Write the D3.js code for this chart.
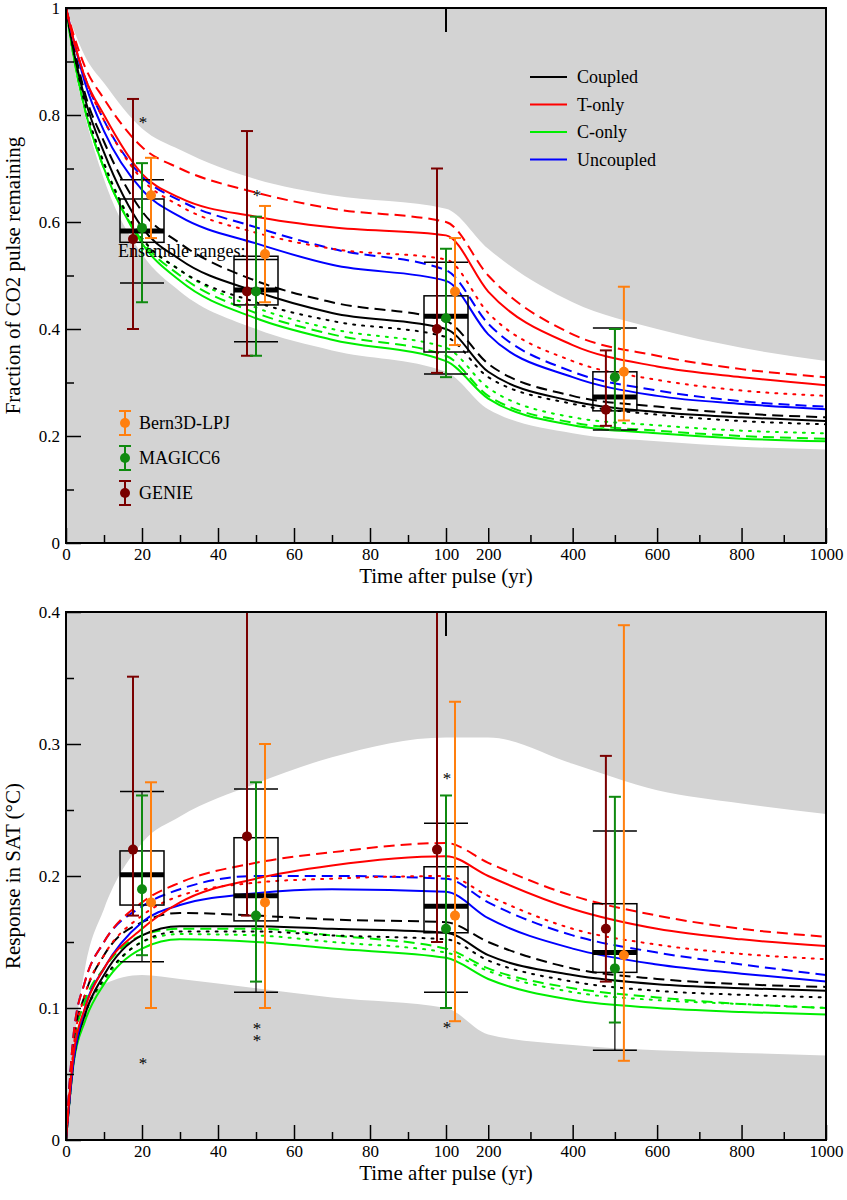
<!DOCTYPE html>
<html lang="en">
<head>
<meta charset="UTF-8">
<title>CO2 pulse response</title>
<script src="https://d3js.org/d3.v7.min.js"></script>
<style>
  body { margin: 0; background: #fff; }
  text { font-family: "Liberation Serif", "DejaVu Serif", serif; }
</style>
</head>
<body>
<div id="chart"></div>
<script>
// time grid shared by all curves
const times = [0, 2, 5, 10, 20, 30, 50, 70, 100, 200, 400, 600, 800, 1000];
const xTicks = [0, 20, 40, 60, 80, 100, 200, 400, 600, 800, 1000];
const xMinor = [10, 30, 50, 70, 90, 300, 500, 700, 900];

// ---- top panel: fraction of CO2 remaining ----
const co2EnvUpper = [1, 0.96, 0.91, 0.86, 0.775, 0.735, 0.68, 0.65, 0.625, 0.55, 0.45, 0.40, 0.365, 0.34];
const co2EnvLower = [1, 0.90, 0.80, 0.68, 0.54, 0.47, 0.40, 0.36, 0.32, 0.25, 0.205, 0.19, 0.18, 0.175];
const co2Coupled = [1, 0.92, 0.83, 0.73, 0.59, 0.53, 0.47, 0.43, 0.40, 0.32, 0.265, 0.245, 0.235, 0.228];
const co2CoupledDash = [1, 0.93, 0.84, 0.75, 0.62, 0.56, 0.49, 0.45, 0.415, 0.335, 0.275, 0.255, 0.242, 0.235];
const co2CoupledDot = [1, 0.92, 0.82, 0.71, 0.57, 0.51, 0.45, 0.415, 0.385, 0.31, 0.26, 0.24, 0.228, 0.222];
const co2T = [1, 0.94, 0.87, 0.80, 0.69, 0.645, 0.61, 0.59, 0.575, 0.47, 0.37, 0.33, 0.31, 0.295];
const co2TDash = [1, 0.95, 0.89, 0.83, 0.74, 0.70, 0.655, 0.625, 0.60, 0.50, 0.39, 0.35, 0.325, 0.31];
const co2TDot = [1, 0.94, 0.87, 0.79, 0.68, 0.63, 0.58, 0.55, 0.53, 0.43, 0.34, 0.305, 0.285, 0.275];
const co2C = [1, 0.91, 0.81, 0.70, 0.56, 0.49, 0.42, 0.38, 0.34, 0.27, 0.22, 0.205, 0.195, 0.19];
const co2CDash = [1, 0.91, 0.81, 0.70, 0.565, 0.50, 0.43, 0.39, 0.35, 0.275, 0.225, 0.21, 0.20, 0.195];
const co2CDot = [1, 0.91, 0.81, 0.71, 0.57, 0.51, 0.44, 0.40, 0.365, 0.29, 0.235, 0.22, 0.21, 0.205];
const co2U = [1, 0.94, 0.86, 0.77, 0.66, 0.61, 0.56, 0.52, 0.49, 0.39, 0.31, 0.275, 0.26, 0.25];
const co2UDash = [1, 0.94, 0.87, 0.79, 0.685, 0.64, 0.59, 0.55, 0.51, 0.41, 0.32, 0.285, 0.265, 0.255];

// boxes: time, whisker low, q1, median, q3, whisker high
const boxTimes = [20, 50, 100, 500];
const co2BoxLo = [0.486, 0.376, 0.316, 0.211];
const co2BoxQ1 = [0.562, 0.445, 0.357, 0.247];
const co2BoxMed = [0.583, 0.473, 0.424, 0.273];
const co2BoxQ3 = [0.643, 0.536, 0.462, 0.32];
const co2BoxHi = [0.679, 0.53, 0.525, 0.402];

// model ensemble ranges [low, mid, high] at boxTimes
const co2Genie = [[0.40, 0.568, 0.83], [0.35, 0.47, 0.77], [0.318, 0.40, 0.70], [0.219, 0.249, 0.36]];
const co2Magicc = [[0.45, 0.589, 0.71], [0.35, 0.47, 0.61], [0.31, 0.42, 0.55], [0.211, 0.31, 0.40]];
const co2Bern = [[0.57, 0.65, 0.72], [0.45, 0.54, 0.63], [0.37, 0.47, 0.57], [0.229, 0.32, 0.479]];
const co2Stars = [[20, 0.79], [50, 0.655]];

// ---- bottom panel: SAT response ----
const satEnvUpper = [0, 0.07, 0.13, 0.175, 0.225, 0.245, 0.27, 0.29, 0.305, 0.305, 0.285, 0.265, 0.255, 0.247];
const satEnvLower = [0, 0.06, 0.10, 0.118, 0.125, 0.122, 0.115, 0.108, 0.10, 0.08, 0.072, 0.068, 0.066, 0.064];
const satCoupled = [0, 0.06, 0.095, 0.125, 0.155, 0.162, 0.162, 0.16, 0.157, 0.14, 0.125, 0.118, 0.115, 0.113];
const satCoupledDash = [0, 0.075, 0.11, 0.14, 0.165, 0.172, 0.17, 0.167, 0.165, 0.15, 0.13, 0.122, 0.118, 0.116];
const satCoupledDot = [0, 0.06, 0.095, 0.122, 0.15, 0.158, 0.158, 0.155, 0.152, 0.136, 0.12, 0.113, 0.11, 0.108];
const satT = [0, 0.065, 0.10, 0.13, 0.16, 0.18, 0.198, 0.208, 0.215, 0.20, 0.175, 0.16, 0.152, 0.147];
const satTDash = [0, 0.08, 0.12, 0.15, 0.18, 0.195, 0.21, 0.218, 0.225, 0.21, 0.185, 0.17, 0.16, 0.154];
const satTDot = [0, 0.07, 0.11, 0.14, 0.17, 0.185, 0.195, 0.198, 0.20, 0.185, 0.16, 0.148, 0.141, 0.137];
const satC = [0, 0.058, 0.09, 0.118, 0.145, 0.152, 0.15, 0.145, 0.138, 0.122, 0.106, 0.10, 0.097, 0.095];
const satCDash = [0, 0.07, 0.105, 0.13, 0.155, 0.16, 0.16, 0.155, 0.145, 0.13, 0.115, 0.108, 0.103, 0.10];
const satCDot = [0, 0.06, 0.095, 0.12, 0.15, 0.156, 0.155, 0.15, 0.142, 0.128, 0.112, 0.106, 0.103, 0.10];
const satU = [0, 0.06, 0.10, 0.13, 0.165, 0.178, 0.187, 0.19, 0.188, 0.168, 0.145, 0.133, 0.126, 0.12];
const satUDash = [0, 0.08, 0.12, 0.15, 0.177, 0.19, 0.20, 0.20, 0.198, 0.18, 0.155, 0.142, 0.133, 0.125];

const satBoxLo = [0.135, 0.112, 0.112, 0.068];
const satBoxQ1 = [0.178, 0.166, 0.157, 0.127];
const satBoxMed = [0.201, 0.185, 0.177, 0.142];
const satBoxQ3 = [0.219, 0.229, 0.207, 0.179];
const satBoxHi = [0.264, 0.266, 0.24, 0.234];

const satGenie = [[0.17, 0.22, 0.351], [0.17, 0.23, 0.45], [0.15, 0.22, 0.45], [0.12, 0.16, 0.291]];
const satMagicc = [[0.14, 0.19, 0.261], [0.12, 0.17, 0.271], [0.10, 0.16, 0.261], [0.089, 0.13, 0.26]];
const satBern = [[0.10, 0.18, 0.271], [0.10, 0.18, 0.30], [0.09, 0.17, 0.332], [0.06, 0.14, 0.39]];
const satStars = [[20, 0.06], [50, 0.086], [50, 0.077], [100, 0.276], [100, 0.087]];

const legendNames = ["Coupled", "T-only", "C-only", "Uncoupled"];
const modelNames = ["Bern3D-LPJ", "MAGICC6", "GENIE"];

const colors = { black: "#000", red: "#ff0000", green: "#00ee00", blue: "#0000ff" };
const modelColors = ["#ff7f0e", "#0f8a0f", "#7a0000"];
const dashes = { solid: null, dash: "11,6", dot: "2,7" };

const W = 847, H = 1200;
const svg = d3.select("#chart").append("svg").attr("width", W).attr("height", H);

const x = d3.scaleLinear().domain([0, 100, 1000]).range([66, 446, 826]);

function panel(cfg) {
  const y = d3.scaleLinear().domain([0, cfg.ymax]).range([cfg.bottom, cfg.top]);
  const g = svg.append("g");
  const clipId = "clip" + cfg.top;
  g.append("clipPath").attr("id", clipId).append("rect")
    .attr("x", 66).attr("y", cfg.top).attr("width", 760).attr("height", cfg.bottom - cfg.top);

  g.append("rect").attr("x", 66).attr("y", cfg.top).attr("width", 760)
    .attr("height", cfg.bottom - cfg.top).attr("fill", "#d3d3d3");

  const inner = g.append("g").attr("clip-path", `url(#${clipId})`);
  const area = d3.area().x((d, i) => x(times[i])).y0((d, i) => y(cfg.envLo[i])).y1(d => y(d))
    .curve(d3.curveMonotoneX);
  inner.append("path").datum(cfg.envHi).attr("d", area).attr("fill", "#fff");

  const line = d3.line().x((d, i) => x(times[i])).y(d => y(d)).curve(d3.curveMonotoneX);
  cfg.curves.forEach(c => {
    inner.append("path").datum(c.v).attr("d", line).attr("fill", "none")
      .attr("stroke", colors[c.col]).attr("stroke-width", 2)
      .attr("stroke-dasharray", dashes[c.st])
      .attr("stroke-linecap", c.st === "dot" ? "round" : "butt");
  });

  // boxes
  const bw = 22;
  boxTimes.forEach((t, i) => {
    const cx = x(t);
    const b = inner.append("g").attr("stroke", "#000").attr("fill", "none");
    b.append("rect").attr("x", cx - bw).attr("y", y(cfg.q3[i])).attr("width", 2 * bw)
      .attr("height", y(cfg.q1[i]) - y(cfg.q3[i])).attr("stroke-width", 1.5);
    b.append("line").attr("x1", cx - bw).attr("x2", cx + bw).attr("y1", y(cfg.med[i])).attr("y2", y(cfg.med[i]))
      .attr("stroke-width", 5);
    [cfg.lo[i], cfg.hi[i]].forEach(v => {
      b.append("line").attr("x1", cx - bw).attr("x2", cx + bw).attr("y1", y(v)).attr("y2", y(v)).attr("stroke-width", 1.5);
    });
    b.append("line").attr("x1", cx).attr("x2", cx).attr("y1", y(cfg.lo[i])).attr("y2", y(cfg.q1[i])).attr("stroke-width", 1.2);
    b.append("line").attr("x1", cx).attr("x2", cx).attr("y1", y(cfg.q3[i])).attr("y2", y(cfg.hi[i])).attr("stroke-width", 1.2);
  });

  // model error bars: GENIE left, MAGICC centre, Bern right
  const models = [[cfg.genie, modelColors[2], -9], [cfg.magicc, modelColors[1], 0], [cfg.bern, modelColors[0], 9]];
  models.forEach(([arr, col, off]) => {
    arr.forEach((r, i) => {
      const cx = x(boxTimes[i]) + off;
      const e = inner.append("g").attr("stroke", col).attr("stroke-width", 2);
      e.append("line").attr("x1", cx).attr("x2", cx).attr("y1", y(r[0])).attr("y2", y(r[2]));
      [r[0], r[2]].forEach(v => e.append("line").attr("x1", cx - 6).attr("x2", cx + 6).attr("y1", y(v)).attr("y2", y(v)));
      e.append("circle").attr("cx", cx).attr("cy", y(r[1])).attr("r", 5).attr("fill", col).attr("stroke", "none");
    });
  });

  cfg.stars.forEach(s => {
    inner.append("text").attr("x", x(s[0]) + 1).attr("y", y(s[1]) + 8).attr("text-anchor", "middle")
      .attr("font-size", 17).text("*");
  });

  // axes with inward ticks
  g.append("g").attr("transform", `translate(0,${cfg.bottom})`)
    .call(d3.axisBottom(x).tickValues(xTicks).tickFormat(d3.format("d")).tickSizeInner(-15).tickSizeOuter(0).tickPadding(5));
  g.append("g").attr("transform", `translate(0,${cfg.bottom})`)
    .call(d3.axisBottom(x).tickValues(xMinor).tickFormat("").tickSizeInner(-8).tickSizeOuter(0));
  g.append("g").attr("transform", "translate(66,0)")
    .call(d3.axisLeft(y).tickValues(cfg.yTicks).tickFormat(d => d === 0 ? "0" : d === 1 ? "1" : d3.format(".1f")(d))
      .tickSizeInner(-15).tickSizeOuter(0).tickPadding(6));
  g.append("g").attr("transform", "translate(66,0)")
    .call(d3.axisLeft(y).tickValues(cfg.yMinor).tickFormat("").tickSizeInner(-8).tickSizeOuter(0));
  g.selectAll(".domain").remove();
  g.selectAll(".tick line").attr("stroke", "#000").attr("stroke-width", 1.5);
  g.selectAll(".tick text").attr("font-size", 17).attr("font-family", "Liberation Serif, serif").attr("fill", "#000");

  // axis break mark
  g.append("line").attr("x1", x(100)).attr("x2", x(100)).attr("y1", cfg.top).attr("y2", cfg.top + 24)
    .attr("stroke", "#000").attr("stroke-width", 2);

  g.append("rect").attr("x", 66).attr("y", cfg.top).attr("width", 760)
    .attr("height", cfg.bottom - cfg.top).attr("fill", "none").attr("stroke", "#000").attr("stroke-width", 2);

  g.append("text").attr("x", 446).attr("y", cfg.bottom + 40).attr("text-anchor", "middle")
    .attr("font-size", 21).text("Time after pulse (yr)");
  g.append("text").attr("transform", `translate(20,${(cfg.top + cfg.bottom) / 2}) rotate(-90)`)
    .attr("text-anchor", "middle").attr("font-size", 21).text(cfg.ylabel);
}

panel({
  top: 8, bottom: 543, ymax: 1,
  yTicks: [0, 0.2, 0.4, 0.6, 0.8, 1], yMinor: [0.1, 0.3, 0.5, 0.7, 0.9],
  envHi: co2EnvUpper, envLo: co2EnvLower,
  curves: [
    { v: co2C, col: "green", st: "solid" }, { v: co2CDash, col: "green", st: "dash" }, { v: co2CDot, col: "green", st: "dot" },
    { v: co2Coupled, col: "black", st: "solid" }, { v: co2CoupledDash, col: "black", st: "dash" }, { v: co2CoupledDot, col: "black", st: "dot" },
    { v: co2U, col: "blue", st: "solid" }, { v: co2UDash, col: "blue", st: "dash" },
    { v: co2T, col: "red", st: "solid" }, { v: co2TDash, col: "red", st: "dash" }, { v: co2TDot, col: "red", st: "dot" }
  ],
  lo: co2BoxLo, q1: co2BoxQ1, med: co2BoxMed, q3: co2BoxQ3, hi: co2BoxHi,
  genie: co2Genie, magicc: co2Magicc, bern: co2Bern, stars: co2Stars,
  ylabel: "Fraction of CO2 pulse remaining"
});

panel({
  top: 612, bottom: 1140, ymax: 0.4,
  yTicks: [0, 0.1, 0.2, 0.3, 0.4], yMinor: [0.05, 0.15, 0.25, 0.35],
  envHi: satEnvUpper, envLo: satEnvLower,
  curves: [
    { v: satC, col: "green", st: "solid" }, { v: satCDash, col: "green", st: "dash" }, { v: satCDot, col: "green", st: "dot" },
    { v: satCoupled, col: "black", st: "solid" }, { v: satCoupledDash, col: "black", st: "dash" }, { v: satCoupledDot, col: "black", st: "dot" },
    { v: satU, col: "blue", st: "solid" }, { v: satUDash, col: "blue", st: "dash" },
    { v: satT, col: "red", st: "solid" }, { v: satTDash, col: "red", st: "dash" }, { v: satTDot, col: "red", st: "dot" }
  ],
  lo: satBoxLo, q1: satBoxQ1, med: satBoxMed, q3: satBoxQ3, hi: satBoxHi,
  genie: satGenie, magicc: satMagicc, bern: satBern, stars: satStars,
  ylabel: "Response in SAT (\u00B0C)"
});

// legend for the curves
const legCols = ["black", "red", "green", "blue"];
legendNames.forEach((n, i) => {
  const ly = 77 + i * 27.5;
  svg.append("line").attr("x1", 530).attr("x2", 567).attr("y1", ly).attr("y2", ly)
    .attr("stroke", colors[legCols[i]]).attr("stroke-width", 2);
  svg.append("text").attr("x", 577).attr("y", ly + 6).attr("font-size", 18).text(n);
});

// legend for ensemble ranges
svg.append("text").attr("x", 118).attr("y", 257).attr("font-size", 18).text("Ensemble ranges:");
modelNames.forEach((n, i) => {
  const ly = 423 + i * 35;
  const col = modelColors[i];
  const e = svg.append("g").attr("stroke", col).attr("stroke-width", 2);
  e.append("line").attr("x1", 125).attr("x2", 125).attr("y1", ly - 12).attr("y2", ly + 12);
  e.append("line").attr("x1", 119).attr("x2", 131).attr("y1", ly - 12).attr("y2", ly - 12);
  e.append("line").attr("x1", 119).attr("x2", 131).attr("y1", ly + 12).attr("y2", ly + 12);
  e.append("circle").attr("cx", 125).attr("cy", ly).attr("r", 5).attr("fill", col).attr("stroke", "none");
  svg.append("text").attr("x", 139).attr("y", ly + 6).attr("font-size", 18).text(n);
});
</script>
</body>
</html>
